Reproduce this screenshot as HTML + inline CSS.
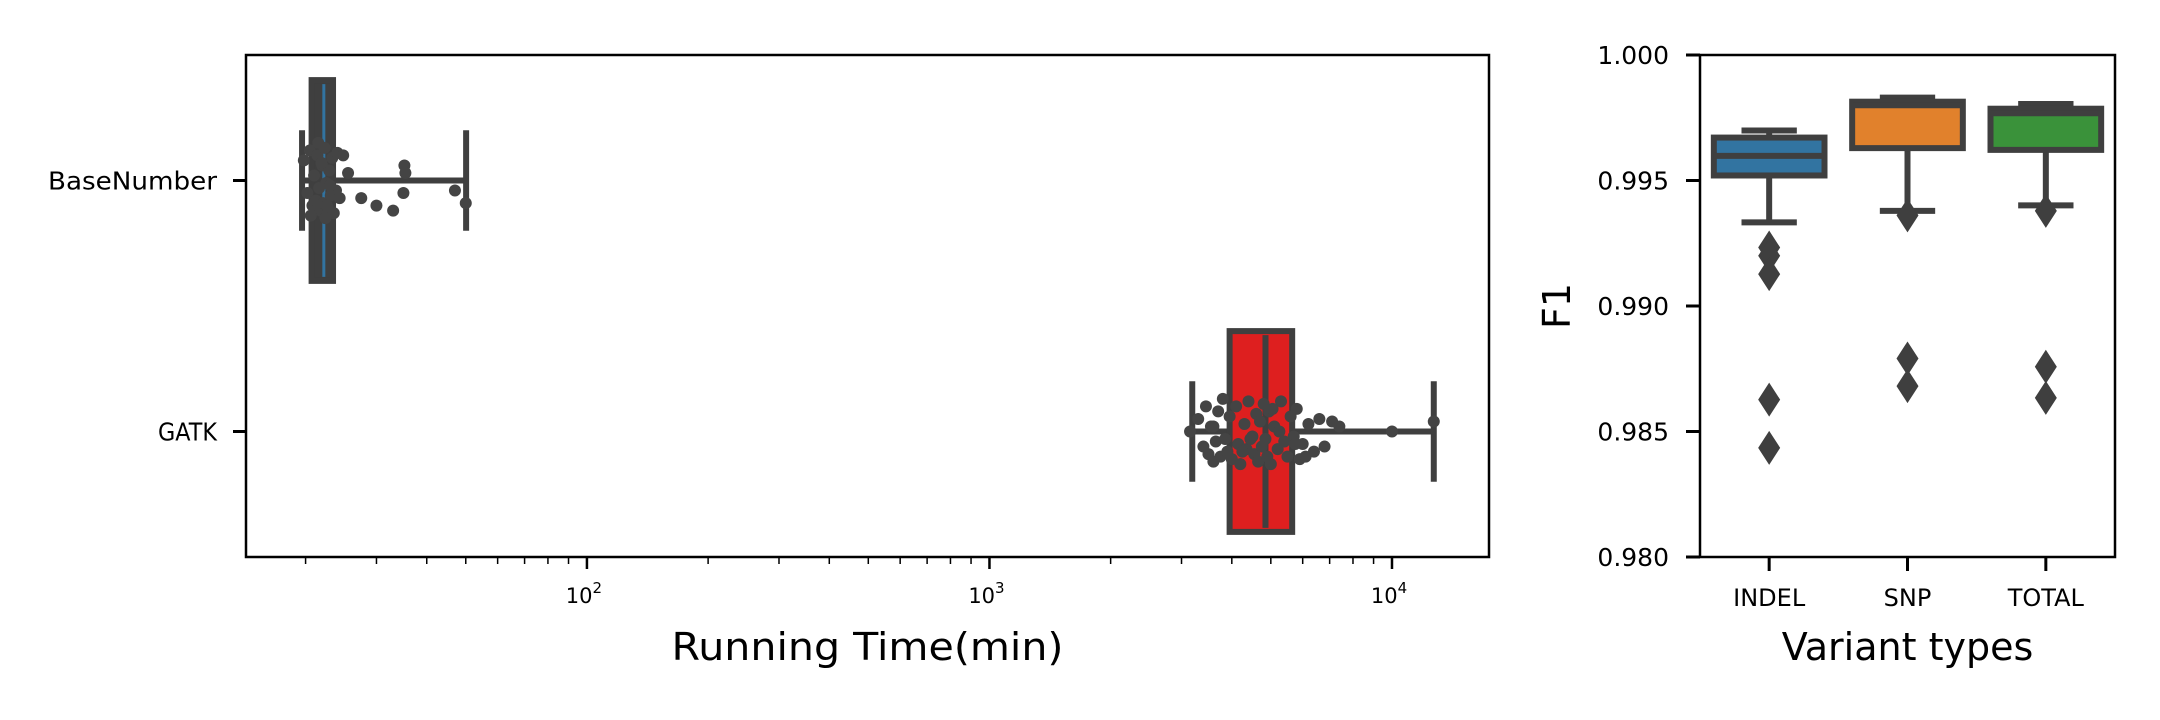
<!DOCTYPE html>
<html><head><meta charset="utf-8"><style>
html,body{margin:0;padding:0;background:#fff;}
svg{display:block;font-family:"DejaVu Sans","Liberation Sans",sans-serif;}
</style></head><body>
<svg id="c" width="2160" height="720" viewBox="0 0 2160 720"></svg>
<script>
// ---- Left chart data (running time, min) ----
const rtCategories = ["BaseNumber", "GATK"];
const rtWhiskerLow = [19.6, 3190];
const rtQ1 = [20.7, 3950];
const rtMedian = [22.2, 4850];
const rtQ3 = [23.4, 5650];
const rtWhiskerHigh = [50.1, 12700];
const rtPointsBN = [19.8,20.2,20.5,20.8,21,21.2,21.4,21.6,21.8,22,22.1,22.3,22.5,22.7,22.9,23.1,23.3,23.5,23.8,24,24.3,21.5,22.4,23,20.6,21.9,22.6,24.8,25.5,27.5,30,33,35.2,35.4,35,47,50];
const rtJitterBN = [-0.08,0.05,-0.12,0.1,-0.02,0.08,-0.1,0.03,0.12,-0.06,0.09,-0.13,0.01,0.11,-0.04,0.06,-0.09,0.13,0.04,-0.11,0.07,-0.15,0.15,0.02,0.14,-0.07,0.1,-0.1,-0.03,0.07,0.1,0.12,-0.06,-0.03,0.05,0.04,0.09];
const rtPointsGATK = [3150,3300,3400,3450,3500,3550,3600,3650,3700,3750,3800,3850,3900,3950,4000,4100,4150,4200,4300,4350,4400,4500,4550,4600,4650,4700,4750,4800,4850,4900,4950,5000,5100,5200,5300,5400,5500,5600,5700,5800,5900,6000,6200,6400,6600,6800,7100,7400,10000,12700,3600,4250,4450,5050,5250,5750,6100];
const rtJitterGATK = [0.0,-0.05,0.06,-0.1,0.09,-0.02,0.12,0.04,-0.08,0.1,-0.13,0.03,0.08,-0.06,0.11,-0.1,0.05,0.13,-0.03,0.07,-0.12,0.02,0.09,-0.07,0.12,-0.04,0.06,-0.11,0.03,0.1,-0.08,0.13,-0.02,0.07,-0.12,0.04,0.1,-0.06,0.02,-0.09,0.11,0.05,-0.03,0.08,-0.05,0.06,-0.04,-0.02,0.0,-0.04,-0.02,0.08,0.03,-0.09,0.0,0.05,0.1];
// ---- Right chart data (F1) ----
const f1Categories = ["INDEL","SNP","TOTAL"];
const f1Colors = ["#3274a1","#e1812c","#3a923a"];
const f1WhiskerLow = [0.99333,0.99379,0.99401];
const f1Q1 = [0.99520,0.99629,0.99622];
const f1Median = [0.99598,0.99800,0.99768];
const f1Q3 = [0.99671,0.99814,0.99786];
const f1WhiskerHigh = [0.99699,0.99830,0.99805];
const f1Outliers = [[0.99233,0.99200,0.99127,0.98627,0.98435],[0.99361,0.98791,0.98681],[0.99379,0.98758,0.98634]];
const f1Ticks = [0.980,0.985,0.990,0.995,1.000];
const rtTicks = [2,3,4];

const NS="http://www.w3.org/2000/svg";
const svg=document.getElementById('c');
function el(tag,attrs,parent){const e=document.createElementNS(NS,tag);for(const k in attrs)e.setAttribute(k,attrs[k]);(parent||svg).appendChild(e);return e;}
const LC="#3f3f3f";

// ---------- left axes ----------
const L={x0:246,x1:1489,y0:55,y1:557};
const lmin=1.153,lmax=4.241;
function lx(v){return L.x0+(Math.log10(v)-lmin)/(lmax-lmin)*(L.x1-L.x0);}
function ly(i){return L.y0+(i+0.5)/2*(L.y1-L.y0);}
const gL=el('g',{});


rtCategories.forEach((c,i)=>{
  const g=el('g',{},gL);
  
  
  const cy=ly(i),hw=0.4*(L.y1-L.y0)/2,cap=0.2*(L.y1-L.y0)/2;
  el('line',{x1:lx(rtWhiskerLow[i]),x2:lx(rtQ1[i]),y1:cy,y2:cy,stroke:LC,'stroke-width':6},g);
  el('line',{x1:lx(rtQ3[i]),x2:lx(rtWhiskerHigh[i]),y1:cy,y2:cy,stroke:LC,'stroke-width':6},g);
  el('line',{x1:lx(rtWhiskerLow[i]),x2:lx(rtWhiskerLow[i]),y1:cy-cap,y2:cy+cap,stroke:LC,'stroke-width':6},g);
  el('line',{x1:lx(rtWhiskerHigh[i]),x2:lx(rtWhiskerHigh[i]),y1:cy-cap,y2:cy+cap,stroke:LC,'stroke-width':6},g);
  el('rect',{x:lx(rtQ1[i]),y:cy-hw,width:lx(rtQ3[i])-lx(rtQ1[i]),height:2*hw,fill:i==0?LC:'#de1f1f',stroke:LC,'stroke-width':6},g);
  el('line',{x1:lx(rtMedian[i]),x2:lx(rtMedian[i]),y1:cy-hw+4,y2:cy+hw-4,stroke:i==0?'#3274a1':LC,'stroke-width':i==0?3:6},g);
});
[[rtPointsBN,rtJitterBN,0],[rtPointsGATK,rtJitterGATK,1]].forEach(([pts,jit,i])=>{
  const g=el('g',{},gL);
  
  
  pts.forEach((v,k)=>{
    const p=el('circle',{cx:lx(v),cy:ly(i)+jit[k]*(L.y1-L.y0)/2,r:6,fill:'#444'},g);
    
    
  });
});
el('rect',{x:L.x0,y:L.y0,width:L.x1-L.x0,height:L.y1-L.y0,fill:'none',stroke:'#000','stroke-width':2.5},gL);
const ytlWidths=[169,59];
rtCategories.forEach((c,i)=>{
  el('line',{x1:L.x0-13,x2:L.x0,y1:ly(i),y2:ly(i),stroke:'#000','stroke-width':3},gL);
  const t=el('text',{x:L.x0-29,y:ly(i)+9,'text-anchor':'end','font-size':25,fill:'#000',textLength:ytlWidths[i],lengthAdjust:'spacingAndGlyphs'},gL);
  t.textContent=c;
  
  
});
for(let d=1;d<=4;d++){for(let m=2;m<=9;m++){const v=m*Math.pow(10,d);const x=lx(v);if(x>L.x0&&x<L.x1)el('line',{x1:x,x2:x,y1:L.y1,y2:L.y1+7,stroke:'#000','stroke-width':1.5},gL);}}
rtTicks.forEach(p=>{
  const x=lx(Math.pow(10,p));
  el('line',{x1:x,x2:x,y1:L.y1,y2:L.y1+12,stroke:'#000','stroke-width':2.5},gL);
  const t=el('text',{x:x-3,y:L.y1+46,'text-anchor':'middle','font-size':21,fill:'#000'},gL);
  t.innerHTML='10<tspan dy="-10" font-size="15">'+p+'</tspan>';
  
  
});
const xtL=el('text',{x:(L.x0+L.x1)/2,y:660,'text-anchor':'middle','font-size':38,fill:'#000',textLength:392,lengthAdjust:'spacingAndGlyphs'},gL);
xtL.textContent='Running Time(min)';



// ---------- right axes ----------
const R={x0:1700,x1:2115,y0:55,y1:557};
function ry(v){return R.y0+(1.0-v)/0.02*(R.y1-R.y0);}
const step=(R.x1-R.x0)/3;
function rx(i){return R.x0+(i+0.5)*step;}
const gR=el('g',{});


f1Categories.forEach((c,i)=>{
  const g=el('g',{},gR);
  
  
  const cx=rx(i),hw=0.4*step,cap=0.2*step;
  el('line',{x1:cx,x2:cx,y1:ry(f1WhiskerLow[i]),y2:ry(f1Q1[i]),stroke:LC,'stroke-width':6},g);
  el('line',{x1:cx,x2:cx,y1:ry(f1Q3[i]),y2:ry(f1WhiskerHigh[i]),stroke:LC,'stroke-width':6},g);
  el('line',{x1:cx-cap,x2:cx+cap,y1:ry(f1WhiskerLow[i]),y2:ry(f1WhiskerLow[i]),stroke:LC,'stroke-width':6},g);
  el('line',{x1:cx-cap,x2:cx+cap,y1:ry(f1WhiskerHigh[i]),y2:ry(f1WhiskerHigh[i]),stroke:LC,'stroke-width':6},g);
  el('rect',{x:cx-hw,y:ry(f1Q3[i]),width:2*hw,height:ry(f1Q1[i])-ry(f1Q3[i]),fill:f1Colors[i],stroke:LC,'stroke-width':6},g);
  el('line',{x1:cx-hw,x2:cx+hw,y1:ry(f1Median[i]),y2:ry(f1Median[i]),stroke:LC,'stroke-width':6},g);
  f1Outliers[i].forEach(v=>{
    const y=ry(v);
    const d=el('polygon',{points:`${cx},${y-17} ${cx+11},${y} ${cx},${y+17} ${cx-11},${y}`,fill:LC},g);
    
    
  });
});
el('rect',{x:R.x0,y:R.y0,width:R.x1-R.x0,height:R.y1-R.y0,fill:'none',stroke:'#000','stroke-width':2.5},gR);
f1Ticks.forEach(v=>{
  const y=ry(v);
  el('line',{x1:R.x0-14,x2:R.x0,y1:y,y2:y,stroke:'#000','stroke-width':3},gR);
  const t=el('text',{x:R.x0-31,y:y+9,'text-anchor':'end','font-size':25,fill:'#000'},gR);
  t.textContent=v.toFixed(3);
  
  
});
f1Categories.forEach((c,i)=>{
  el('line',{x1:rx(i),x2:rx(i),y1:R.y1,y2:R.y1+14,stroke:'#000','stroke-width':3},gR);
  const t=el('text',{x:rx(i),y:606,'text-anchor':'middle','font-size':24,fill:'#000'},gR);
  t.textContent=c;
  
  
});
const xtR=el('text',{x:(R.x0+R.x1)/2,y:660,'text-anchor':'middle','font-size':38,fill:'#000'},gR);
xtR.textContent='Variant types';


const ytR=el('text',{x:0,y:0,'text-anchor':'middle','font-size':38,fill:'#000',transform:'translate(1570,306) rotate(-90)'},gR);
ytR.textContent='F1';


</script>
</body></html>
